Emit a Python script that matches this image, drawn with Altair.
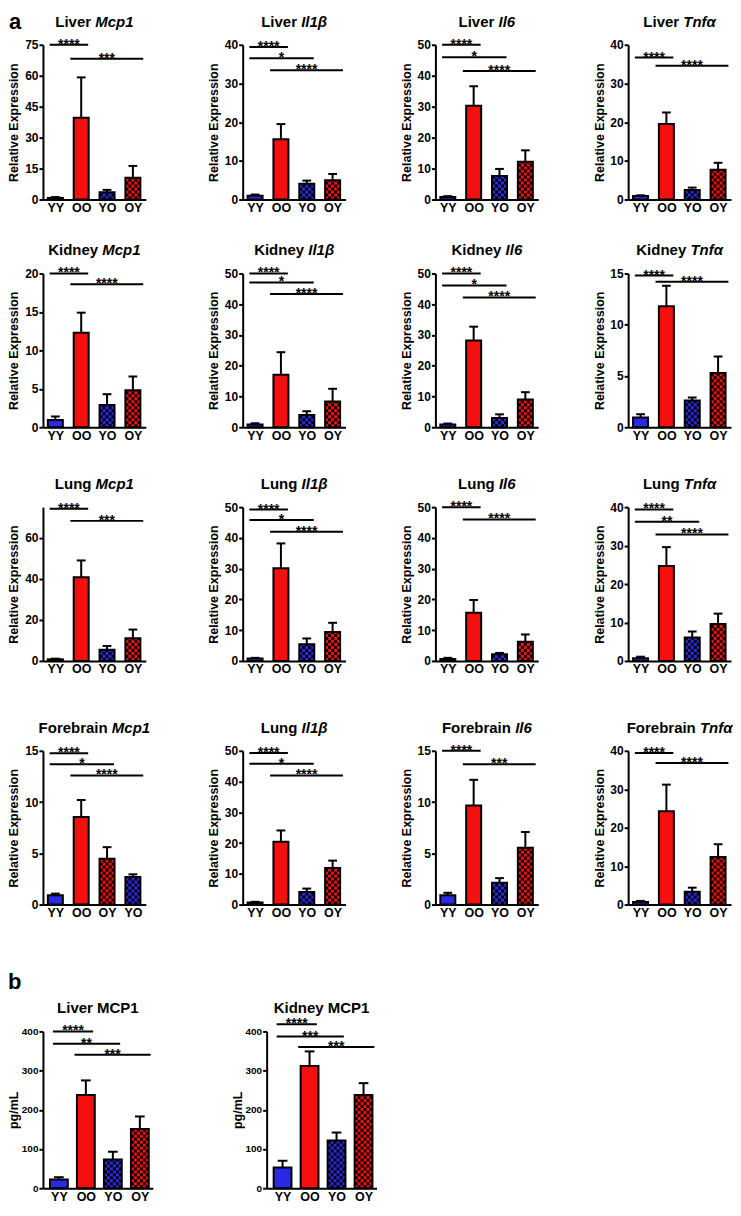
import math
import altair as alt
import pandas as pd

FONT = "Liberation Sans"
RED = "#f50f0f"
BLUE = "#2a2ae6"

# ---------------- categories ----------------
groups = ["YY", "OO", "YO", "OY"]
groups_forebrain_mcp1 = ["YY", "OO", "OY", "YO"]
bar_fill = {"YY": BLUE, "OO": RED, "YO": BLUE, "OY": RED}
bar_checked = {"YY": False, "OO": False, "YO": True, "OY": True}

# ---------------- panel a : row 1 (liver) ----------------
liver_mcp1_mean = [0.8, 39.7, 3.5, 10.6]
liver_mcp1_sem = [0.4, 19.5, 1.2, 5.7]
liver_mcp1_ticks = [0, 15, 30, 45, 60, 75]
liver_mcp1_sig = [("YY", "OO", 75.0, "****"), ("OO", "OY", 68.2, "***")]

liver_il1b_mean = [1.0, 15.6, 4.1, 5.0]
liver_il1b_sem = [0.3, 3.9, 0.8, 1.6]
liver_il1b_ticks = [0, 10, 20, 30, 40]
liver_il1b_sig = [("YY", "OO", 39.4, "****"), ("YY", "YO", 36.5, "*"), ("OO", "OY", 33.4, "****")]

liver_il6_mean = [0.8, 30.3, 7.6, 12.2]
liver_il6_sem = [0.3, 6.3, 2.3, 3.7]
liver_il6_ticks = [0, 10, 20, 30, 40, 50]
liver_il6_sig = [("YY", "OO", 50.0, "****"), ("YY", "YO", 46.0, "*"), ("OO", "OY", 41.5, "****")]

liver_tnfa_mean = [0.9, 19.5, 2.5, 7.7]
liver_tnfa_sem = [0.2, 3.0, 0.6, 1.8]
liver_tnfa_ticks = [0, 10, 20, 30, 40]
liver_tnfa_sig = [("YY", "OO", 36.7, "****"), ("OO", "OY", 34.6, "****")]

# ---------------- row 2 (kidney) ----------------
kidney_mcp1_mean = [0.95, 12.3, 2.9, 4.8]
kidney_mcp1_sem = [0.45, 2.6, 1.4, 1.8]
kidney_mcp1_ticks = [0, 5, 10, 15, 20]
kidney_mcp1_sig = [("YY", "OO", 20.0, "****"), ("OO", "OY", 18.6, "****")]

kidney_il1b_mean = [0.9, 17.1, 4.0, 8.4]
kidney_il1b_sem = [0.4, 7.3, 1.2, 4.1]
kidney_il1b_ticks = [0, 10, 20, 30, 40, 50]
kidney_il1b_sig = [("YY", "OO", 50.0, "****"), ("YY", "YO", 47.1, "*"), ("OO", "OY", 43.3, "****")]

kidney_il6_mean = [0.9, 28.2, 3.0, 9.0]
kidney_il6_sem = [0.3, 4.5, 1.2, 2.4]
kidney_il6_ticks = [0, 10, 20, 30, 40, 50]
kidney_il6_sig = [("YY", "OO", 50.0, "****"), ("YY", "YO", 46.1, "*"), ("OO", "OY", 42.2, "****")]

kidney_tnfa_mean = [0.94, 11.8, 2.6, 5.3]
kidney_tnfa_sem = [0.33, 2.0, 0.3, 1.6]
kidney_tnfa_ticks = [0, 5, 10, 15]
kidney_tnfa_sig = [("YY", "OO", 14.8, "****"), ("OO", "OY", 14.2, "****")]

# ---------------- row 3 (lung) ----------------
lung_mcp1_mean = [0.8, 40.8, 5.5, 11.1]
lung_mcp1_sem = [0.3, 8.2, 1.8, 4.2]
lung_mcp1_ticks = [0, 20, 40, 60]
lung_mcp1_sig = [("YY", "OO", 74.2, "****"), ("OO", "OY", 68.3, "***")]

lung_il1b_mean = [0.75, 30.1, 5.4, 9.4]
lung_il1b_sem = [0.25, 8.1, 1.9, 3.0]
lung_il1b_ticks = [0, 10, 20, 30, 40, 50]
lung_il1b_sig = [("YY", "OO", 49.2, "****"), ("YY", "YO", 45.8, "*"), ("OO", "OY", 42.0, "****")]

lung_il6_mean = [0.65, 15.7, 2.15, 6.2]
lung_il6_sem = [0.35, 4.1, 0.45, 2.4]
lung_il6_ticks = [0, 10, 20, 30, 40, 50]
lung_il6_sig = [("YY", "OO", 50.0, "****"), ("OO", "OY", 46.0, "****")]

lung_tnfa_mean = [0.7, 24.7, 6.1, 9.6]
lung_tnfa_sem = [0.4, 4.9, 1.55, 2.7]
lung_tnfa_ticks = [0, 10, 20, 30, 40]
lung_tnfa_sig = [("YY", "OO", 39.4, "****"), ("YY", "YO", 36.2, "**"), ("OO", "OY", 32.9, "****")]

# ---------------- row 4 (forebrain) ----------------
forebrain_mcp1_mean = [0.91, 8.54, 4.48, 2.7]
forebrain_mcp1_sem = [0.16, 1.66, 1.12, 0.25]
forebrain_mcp1_ticks = [0, 5, 10, 15]
forebrain_mcp1_sig = [("YY", "OO", 14.77, "****"), ("YY", "OY", 13.7, "*"), ("OO", "YO", 12.6, "****")]

row4_il1b_mean = [0.65, 20.4, 4.1, 11.9]
row4_il1b_sem = [0.25, 3.7, 1.1, 2.4]
row4_il1b_ticks = [0, 10, 20, 30, 40, 50]
row4_il1b_sig = [("YY", "OO", 49.3, "****"), ("YY", "YO", 45.8, "*"), ("OO", "OY", 42.0, "****")]

forebrain_il6_mean = [0.92, 9.67, 2.12, 5.55]
forebrain_il6_sem = [0.23, 2.5, 0.46, 1.53]
forebrain_il6_ticks = [0, 5, 10, 15]
forebrain_il6_sig = [("YY", "OO", 15.0, "****"), ("OO", "OY", 13.7, "***")]

forebrain_tnfa_mean = [0.7, 24.3, 3.33, 12.4]
forebrain_tnfa_sem = [0.26, 6.9, 1.07, 3.3]
forebrain_tnfa_ticks = [0, 10, 20, 30, 40]
forebrain_tnfa_sig = [("YY", "OO", 39.4, "****"), ("OO", "OY", 36.8, "****")]

# ---------------- panel b (protein, pg/mL) ----------------
liver_MCP1_mean = [22, 238, 73, 151]
liver_MCP1_sem = [6, 37, 20, 32]
liver_MCP1_ticks = [0, 100, 200, 300, 400]
liver_MCP1_sig = [("YY", "OO", 400, "****"), ("YY", "YO", 368.5, "**"), ("OO", "OY", 340.4, "***")]

kidney_MCP1_mean = [53, 312, 122, 238]
kidney_MCP1_sem = [17, 37, 20, 30]
kidney_MCP1_ticks = [0, 100, 200, 300, 400]
kidney_MCP1_sig = [("YY", "OO", 418, "****"), ("YY", "YO", 387, "***"), ("OO", "OY", 360, "***")]


def P(organ, gene, cats, mean, sem, ticks, ymax, sig, italic=True):
    return dict(organ=organ, gene=gene, cats=cats, mean=mean, sem=sem,
                ticks=ticks, ymax=ymax, sig=sig, italic=italic)


rows_a = [
    [P("Liver", "Mcp1", groups, liver_mcp1_mean, liver_mcp1_sem, liver_mcp1_ticks, 75, liver_mcp1_sig),
     P("Liver", "Il1β", groups, liver_il1b_mean, liver_il1b_sem, liver_il1b_ticks, 40, liver_il1b_sig),
     P("Liver", "Il6", groups, liver_il6_mean, liver_il6_sem, liver_il6_ticks, 50, liver_il6_sig),
     P("Liver", "Tnfα", groups, liver_tnfa_mean, liver_tnfa_sem, liver_tnfa_ticks, 40, liver_tnfa_sig)],
    [P("Kidney", "Mcp1", groups, kidney_mcp1_mean, kidney_mcp1_sem, kidney_mcp1_ticks, 20, kidney_mcp1_sig),
     P("Kidney", "Il1β", groups, kidney_il1b_mean, kidney_il1b_sem, kidney_il1b_ticks, 50, kidney_il1b_sig),
     P("Kidney", "Il6", groups, kidney_il6_mean, kidney_il6_sem, kidney_il6_ticks, 50, kidney_il6_sig),
     P("Kidney", "Tnfα", groups, kidney_tnfa_mean, kidney_tnfa_sem, kidney_tnfa_ticks, 15, kidney_tnfa_sig)],
    [P("Lung", "Mcp1", groups, lung_mcp1_mean, lung_mcp1_sem, lung_mcp1_ticks, 75, lung_mcp1_sig),
     P("Lung", "Il1β", groups, lung_il1b_mean, lung_il1b_sem, lung_il1b_ticks, 50, lung_il1b_sig),
     P("Lung", "Il6", groups, lung_il6_mean, lung_il6_sem, lung_il6_ticks, 50, lung_il6_sig),
     P("Lung", "Tnfα", groups, lung_tnfa_mean, lung_tnfa_sem, lung_tnfa_ticks, 40, lung_tnfa_sig)],
    [P("Forebrain", "Mcp1", groups_forebrain_mcp1, forebrain_mcp1_mean, forebrain_mcp1_sem, forebrain_mcp1_ticks, 15, forebrain_mcp1_sig),
     P("Lung", "Il1β", groups, row4_il1b_mean, row4_il1b_sem, row4_il1b_ticks, 50, row4_il1b_sig),
     P("Forebrain", "Il6", groups, forebrain_il6_mean, forebrain_il6_sem, forebrain_il6_ticks, 15, forebrain_il6_sig),
     P("Forebrain", "Tnfα", groups, forebrain_tnfa_mean, forebrain_tnfa_sem, forebrain_tnfa_ticks, 40, forebrain_tnfa_sig)],
]
row_b = [
    P("Liver", "MCP1", groups, liver_MCP1_mean, liver_MCP1_sem, liver_MCP1_ticks, 400, liver_MCP1_sig, italic=False),
    P("Kidney", "MCP1", groups, kidney_MCP1_mean, kidney_MCP1_sem, kidney_MCP1_ticks, 400, kidney_MCP1_sig, italic=False),
]

# ---------------- layout (page pixels; must fit 725 x 1200) ----------------
COL_AXIS_A = [43, 243, 436, 629]
COL_EDGE_A = [8, 203, 396, 589, 734]
W_A = 103
ROW_TOP_A = [44, 273, 507, 751]
H_A = [155, 154, 154, 154]
ROW_EDGE = [8, 233, 467, 711, 972, 1204]
COL_AXIS_B = [43, 267]
COL_EDGE_B = [8, 227, 734]
W_B = 110
ROW_TOP_B = 1032
H_B = 157

# Arial/Liberation bold advance widths (per em)
ADV = {' ': .278, 'L': .611, 'i': .278, 'v': .556, 'e': .556, 'r': .389, 'K': .722,
       'd': .611, 'n': .611, 'y': .556, 'u': .611, 'g': .611, 'F': .611, 'o': .611,
       'b': .611, 'a': .556, 'M': .833, 'c': .556, 'p': .611, '1': .556, 'I': .278,
       'l': .278, '6': .556, 'T': .611, 'f': .333, 'α': .611, 'β': .611, 'C': .722,
       'P': .667}


def tw(s, fs):
    return sum(ADV.get(ch, .6) for ch in s) * fs


def make_panel(p, axis_x, col_l, col_r, plot_top, row_t, row_b_edge, W, H, xdom,
               hw, cap, ytitle, ylab_fs, ncols, letter=None, letter_xy=(-34, -16)):
    cats = p["cats"]
    ymax = p["ymax"]
    xsc = alt.Scale(domain=list(xdom), nice=False, zero=False)
    ysc = alt.Scale(domain=[0, ymax], nice=False, zero=False)
    idx = list(range(len(cats)))
    bars = pd.DataFrame({"idx": idx, "group": cats, "mean": p["mean"], "sem": p["sem"]})
    bars["x0"] = bars["idx"] - hw
    bars["x1"] = bars["idx"] + hw
    bars["top"] = bars["mean"] + bars["sem"]
    bars["base"] = 0.0
    bars["c0"] = bars["idx"] - cap
    bars["c1"] = bars["idx"] + cap
    bars["fill"] = [bar_fill[g] for g in cats]

    label_expr = "[" + ",".join("'%s'" % c for c in cats) + "][datum.value]"
    xaxis = alt.Axis(values=idx, labelExpr=label_expr, title=None, grid=False, ticks=False,
                     domainColor="black", domainWidth=2, labelFont=FONT, labelFontSize=12.5,
                     labelFontWeight="bold", labelColor="black", labelPadding=2,
                     labelFlush=False, labelOverlap=False, labelAngle=0)
    yaxis = alt.Axis(values=p["ticks"], title=ytitle, grid=False, tickColor="black",
                     tickWidth=2, tickSize=4, domainColor="black", domainWidth=2,
                     labelFont=FONT, labelFontSize=ylab_fs, labelFontWeight="bold",
                     labelColor="black", labelPadding=1, labelFlush=False,
                     labelOverlap=False, titleFont=FONT, titleFontSize=12.5,
                     titleFontWeight="bold", titleColor="black", titleX=-25,
                     titleY=H / 2, titleAngle=270, titleAlign="center",
                     titleBaseline="alphabetic")

    def qx(f):
        return alt.X(f, type="quantitative", scale=xsc, axis=xaxis)

    def qy(f):
        return alt.Y(f, type="quantitative", scale=ysc, axis=yaxis)

    base = alt.Chart(bars).mark_rect(strokeWidth=0).encode(
        x=qx("x0"), x2=alt.X2("x1"), y=qy("mean"), y2=alt.Y2("base"),
        fill=alt.Fill("fill:N", scale=None))

    # checkered pattern cells
    pxi = W / (xdom[1] - xdom[0])
    cw = 2 * hw / ncols
    ch = cw * pxi * ymax / H
    cells = []
    for i, g in enumerate(cats):
        if not bar_checked[g]:
            continue
        m = p["mean"][i]
        nrows = int(math.ceil(m / ch - 1e-9))
        for r in range(nrows):
            for c in range(ncols):
                if (r + c) % 2 == 1:
                    cells.append({"cx0": i - hw + c * cw, "cx1": i - hw + (c + 1) * cw,
                                  "cy0": r * ch, "cy1": min((r + 1) * ch, m)})
    cells = pd.DataFrame(cells)
    cell_layer = alt.Chart(cells).mark_rect(fill="#000000", strokeWidth=0).encode(
        x=qx("cx0"), x2=alt.X2("cx1"), y=qy("cy0"), y2=alt.Y2("cy1"))

    outline = alt.Chart(bars).mark_rect(fillOpacity=0, stroke="black", strokeWidth=2).encode(
        x=qx("x0"), x2=alt.X2("x1"), y=qy("mean"), y2=alt.Y2("base"))
    err = alt.Chart(bars).mark_rule(color="black", strokeWidth=2).encode(
        x=qx("idx"), y=qy("mean"), y2=alt.Y2("top"))
    caps = alt.Chart(bars).mark_rule(color="black", strokeWidth=2).encode(
        x=qx("c0"), x2=alt.X2("c1"), y=qy("top"))

    srows = []
    for a_name, b_name, yv, lab in p["sig"]:
        a = cats.index(a_name)
        b = cats.index(b_name)
        s0 = a - 0.22 if a == 0 else a - 0.42
        s1 = b + 0.27 if b < 3 else min(b + 0.4, xdom[1])
        srows.append({"s0": s0, "s1": s1, "sy": yv, "mid": (s0 + s1) / 2, "label": lab})
    sig = pd.DataFrame(srows)
    sig_lines = alt.Chart(sig).mark_rule(color="black", strokeWidth=2).encode(
        x=qx("s0"), x2=alt.X2("s1"), y=qy("sy"))
    sig_text = alt.Chart(sig).mark_text(font=FONT, fontSize=14, fontWeight="bold",
                                        baseline="alphabetic", align="center", dy=4,
                                        color="black").encode(
        x=qx("mid"), y=qy("sy"), text="label:N")

    fs = 15
    layers = [base, cell_layer, outline, err, caps, sig_lines, sig_text]
    if p["italic"]:
        w_pre = tw(p["organ"], fs)
        w_sp = tw(" ", fs)
        w_gene = tw(p["gene"], fs)
        left = W / 2 - (w_pre + w_sp + w_gene) / 2
        t1 = alt.Chart(pd.DataFrame({"t": [p["organ"]]})).mark_text(
            font=FONT, fontSize=fs, fontWeight="bold", align="left", baseline="alphabetic",
            color="black").encode(x=alt.value(left), y=alt.value(-18), text="t:N")
        t2 = alt.Chart(pd.DataFrame({"t": [p["gene"]]})).mark_text(
            font=FONT, fontSize=fs, fontWeight="bold", fontStyle="italic", align="left",
            baseline="alphabetic", color="black").encode(
            x=alt.value(left + w_pre + w_sp), y=alt.value(-18), text="t:N")
        layers += [t1, t2]
    else:
        t1 = alt.Chart(pd.DataFrame({"t": [p["organ"] + " " + p["gene"]]})).mark_text(
            font=FONT, fontSize=fs, fontWeight="bold", align="center", baseline="alphabetic",
            color="black").encode(x=alt.value(W / 2), y=alt.value(-18), text="t:N")
        layers += [t1]
    if letter:
        lt = alt.Chart(pd.DataFrame({"t": [letter]})).mark_text(
            font=FONT, fontSize=22, fontWeight="bold", align="left", baseline="alphabetic",
            color="black").encode(x=alt.value(letter_xy[0]), y=alt.value(letter_xy[1]),
                                  text="t:N")
        layers.append(lt)

    L = axis_x - col_l
    R = col_r - axis_x - W
    T = plot_top - row_t
    B = row_b_edge - plot_top - H
    frame = alt.Chart(pd.DataFrame({"f": [0]})).mark_rect(opacity=0).encode(
        x=alt.value(-L), x2=alt.value(W + R), y=alt.value(-T), y2=alt.value(H + B))
    layers.append(frame)
    return alt.layer(*layers).properties(width=W, height=H)


rows = []
for r, prow in enumerate(rows_a):
    charts = []
    for c, p in enumerate(prow):
        charts.append(make_panel(
            p, COL_AXIS_A[c], COL_EDGE_A[c], COL_EDGE_A[c + 1], ROW_TOP_A[r],
            ROW_EDGE[r], ROW_EDGE[r + 1], W_A, H_A[r], (-0.48, 3.5), 0.29, 0.17,
            "Relative Expression", 12, 5, letter=("a" if (r == 0 and c == 0) else None),
            letter_xy=(-34, -16)))
    rows.append(alt.hconcat(*charts, spacing=0))

charts_b = []
for c, p in enumerate(row_b):
    charts_b.append(make_panel(
        p, COL_AXIS_B[c], COL_EDGE_B[c], COL_EDGE_B[c + 1], ROW_TOP_B, ROW_EDGE[4],
        ROW_EDGE[5], W_B, H_B, (-0.59, 3.48), 0.33, 0.18, "pg/mL", 10, 6,
        letter=("b" if c == 0 else None), letter_xy=(-35, -42)))
rows.append(alt.hconcat(*charts_b, spacing=0))

chart = alt.vconcat(*rows, spacing=0).properties(
    padding={"left": 0, "top": 0, "right": 0, "bottom": 0}
).configure_view(stroke=None)

chart.save("out.html", embed_options={"renderer": "svg", "actions": False})
